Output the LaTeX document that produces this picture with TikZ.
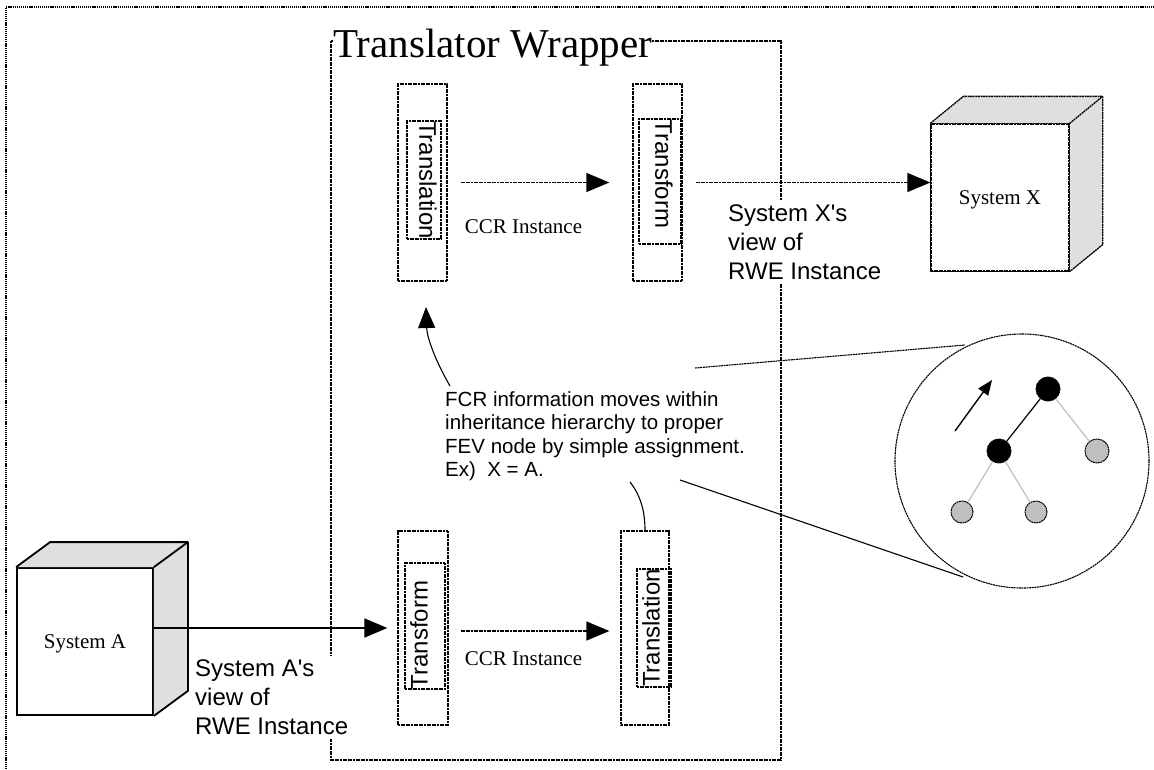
\documentclass[tikz,border=0pt]{standalone}
\usepackage{fontspec}
\setmainfont{Liberation Serif}
\newfontfamily\arial{Liberation Sans}
\usetikzlibrary{arrows.meta,calc}
\begin{document}
\begin{tikzpicture}[x=1pt,y=-1pt,
  dotln/.style={line width=1.3pt, dash pattern=on 2pt off 0.6pt},
  thinln/.style={line width=1.1pt},
  bigtip/.style={-{Triangle[length=23pt 0,width=19pt 0]}},
  midtip/.style={-{Triangle[length=21pt 0,width=17pt 0]}},
  smalltip/.style={-{Triangle[length=15pt 0,width=12pt 0]}},
  outerbox/.style={draw, dotln, inner sep=0pt},
  innerbox/.style={draw, dotln, inner sep=0pt},
  vtext/.style={font=\arial\fontsize{24}{28}\selectfont, inner sep=0pt},
  serif/.style={font=\fontsize{21}{25}\selectfont, inner sep=0pt},
  sans/.style={font=\arial\fontsize{24}{29}\selectfont, align=left},
  cubeface/.style={draw, inner sep=0pt, text height=14pt, text depth=0pt, font=\fontsize{21}{25}\selectfont},
  tnode/.style={circle, draw, dotln, line width=1pt, inner sep=0pt},
]
\useasboundingbox (0,0) rectangle (1154,769);

% outer frame (only top and left visible)
\draw[dotln, line width=1.1pt, dash pattern=on 1.2pt off 0.9pt] (6,769) -- (6,7) -- (1154,7);

% translator wrapper
\draw[dotln] (331,41) rectangle (781,760);
\node[anchor=base west, fill=white, inner sep=0pt, font=\fontsize{41}{45}\selectfont] (title) at (333,57) {Translator Wrapper};

% top row boxes
\node[outerbox, minimum width=49pt, minimum height=197pt] (trT) at (422.5,182.5) {};
\node[innerbox, minimum width=34pt, minimum height=118pt] (trTi) at (424,180) {};
\node[vtext, rotate=-90] (trTt) at (428,180) {Translation};

\node[outerbox, minimum width=49pt, minimum height=197pt] (tfT) at (657.5,182.5) {};
\node[innerbox, minimum width=42pt, minimum height=125pt] (tfTi) at (660,181.5) {};
\node[vtext, rotate=-90] (tfTt) at (664,174) {Transform};

% bottom row boxes
\node[outerbox, minimum width=50pt, minimum height=194pt] (tfB) at (423,628) {};
\node[innerbox, minimum width=40pt, minimum height=126pt] (tfBi) at (425,626) {};
\node[vtext, rotate=90] (tfBt) at (419,635) {Transform};

\node[outerbox, minimum width=48pt, minimum height=194pt] (trB) at (645,628) {};
\node[innerbox, minimum width=34pt, minimum height=118pt] (trBi) at (654,628) {};
\node[vtext, rotate=90] (trBt) at (651,628) {Translation};

% CCR labels
\node[serif, anchor=base] (ccrT) at (523.5,233) {CCR Instance};
\node[serif, anchor=base] (ccrB) at (523.5,665) {CCR Instance};

% System A cube
\node[cubeface, line width=1.8pt, minimum width=136pt, minimum height=147pt] (sysA) at (85,641.5) {System A};
\fill[gray!25] (sysA.north west) -- ++(34,-25) -- ($(sysA.north east)+(34,-25)$) -- (sysA.north east) -- cycle;
\fill[gray!25] (sysA.north east) -- ++(34,-25) -- ($(sysA.south east)+(34,-25)$) -- (sysA.south east) -- cycle;
\draw[line width=1.8pt, line join=round] (sysA.north west) -- ++(34,-25) -- ($(sysA.north east)+(34,-25)$) -- ($(sysA.south east)+(34,-25)$) -- (sysA.south east);
\draw[line width=1.8pt] (sysA.north east) -- ++(34,-25);

% System X cube
\node[cubeface, dotln, minimum width=138pt, minimum height=147pt] (sysX) at (1000,197.5) {System X};
\fill[gray!25] (sysX.north west) -- ++(33,-27) -- ($(sysX.north east)+(33,-27)$) -- (sysX.north east) -- cycle;
\fill[gray!25] (sysX.north east) -- ++(33,-27) -- ($(sysX.south east)+(33,-27)$) -- (sysX.south east) -- cycle;
\draw[dotln, line join=round] (sysX.north west) -- ++(33,-27) -- ($(sysX.north east)+(33,-27)$) -- ($(sysX.south east)+(33,-27)$) -- (sysX.south east);
\draw[dotln] (sysX.north east) -- ++(33,-27);
\draw[dotln] (sysX.north west) rectangle (sysX.south east);

% view labels (opaque, covering the wrapper)
\node[sans, anchor=north west, fill=white, inner sep=4pt] (viewA) at (191,655.5) {System A's\\view of\\RWE Instance};
\node[sans, anchor=north west, fill=white, inner sep=4pt] (viewX) at (724,200.5) {System X's\\view of\\RWE Instance};

% arrows
\draw[dotln, bigtip, shorten <=13pt, shorten >=23pt] (trT.east) -- (tfT.west);
\draw[dotln, bigtip, shorten <=13pt] (tfT.east) -- (tfT.east -| sysX.west);
\draw[line width=1.7pt, bigtip, shorten >=10pt] (sysA.east |- tfB.west) -- (tfB.west);
\draw[dotln, bigtip, shorten <=12pt, shorten >=11pt] ($(tfB.east)+(0,3)$) -- ($(trB.west)+(0,3)$);

% FCR text
\node[font=\arial\fontsize{20.5}{23.3}\selectfont, align=left, anchor=north west, inner sep=0pt] (fcr) at (445,391.5)
  {FCR information moves within\\inheritance hierarchy to proper\\FEV node by simple assignment.\\Ex)\ \ X = A.};

\coordinate (c1) at (450,386);
\coordinate (c2) at (426,307);
\draw[thinln, midtip] (c1) .. controls (436,362) and (427,338) .. (c2);
\coordinate (c3) at (630,482);
\draw[thinln] (c3) .. controls (641,496) and (645,512) .. (trB.north);

% magnifier
\node[circle, draw, dotln, line width=1.1pt, minimum size=254pt, inner sep=0pt] (mag) at (1022,461) {};
\coordinate (u1) at (695,368);
\coordinate (u2) at (965,345);
\coordinate (l1) at (680,480);
\coordinate (l2) at (963,577);
\draw[dotln, line width=1.1pt] (u1) -- (u2);
\draw[thinln] (l1) -- (l2);

% tree
\node[tnode, fill=black, minimum size=24pt] (n1) at (1048,389) {};
\node[tnode, fill=black, minimum size=24pt] (n2) at (999,451) {};
\node[tnode, fill=gray!50, minimum size=24pt] (n3) at (1097,451) {};
\node[tnode, fill=gray!50, minimum size=22pt] (n4) at (962,512) {};
\node[tnode, fill=gray!50, minimum size=22pt] (n5) at (1036,512) {};
\draw[line width=1.2pt] (n1) -- (n2);
\draw[line width=1.2pt, gray!50] (n1) -- (n3);
\draw[line width=1.2pt, gray!50] (n2) -- (n4);
\draw[line width=1.2pt, gray!50] (n2) -- (n5);
\coordinate (a1) at (955,431);
\coordinate (a2) at (992,380);
\draw[line width=1.4pt, smalltip] (a1) -- (a2);
\end{tikzpicture}
\end{document}
